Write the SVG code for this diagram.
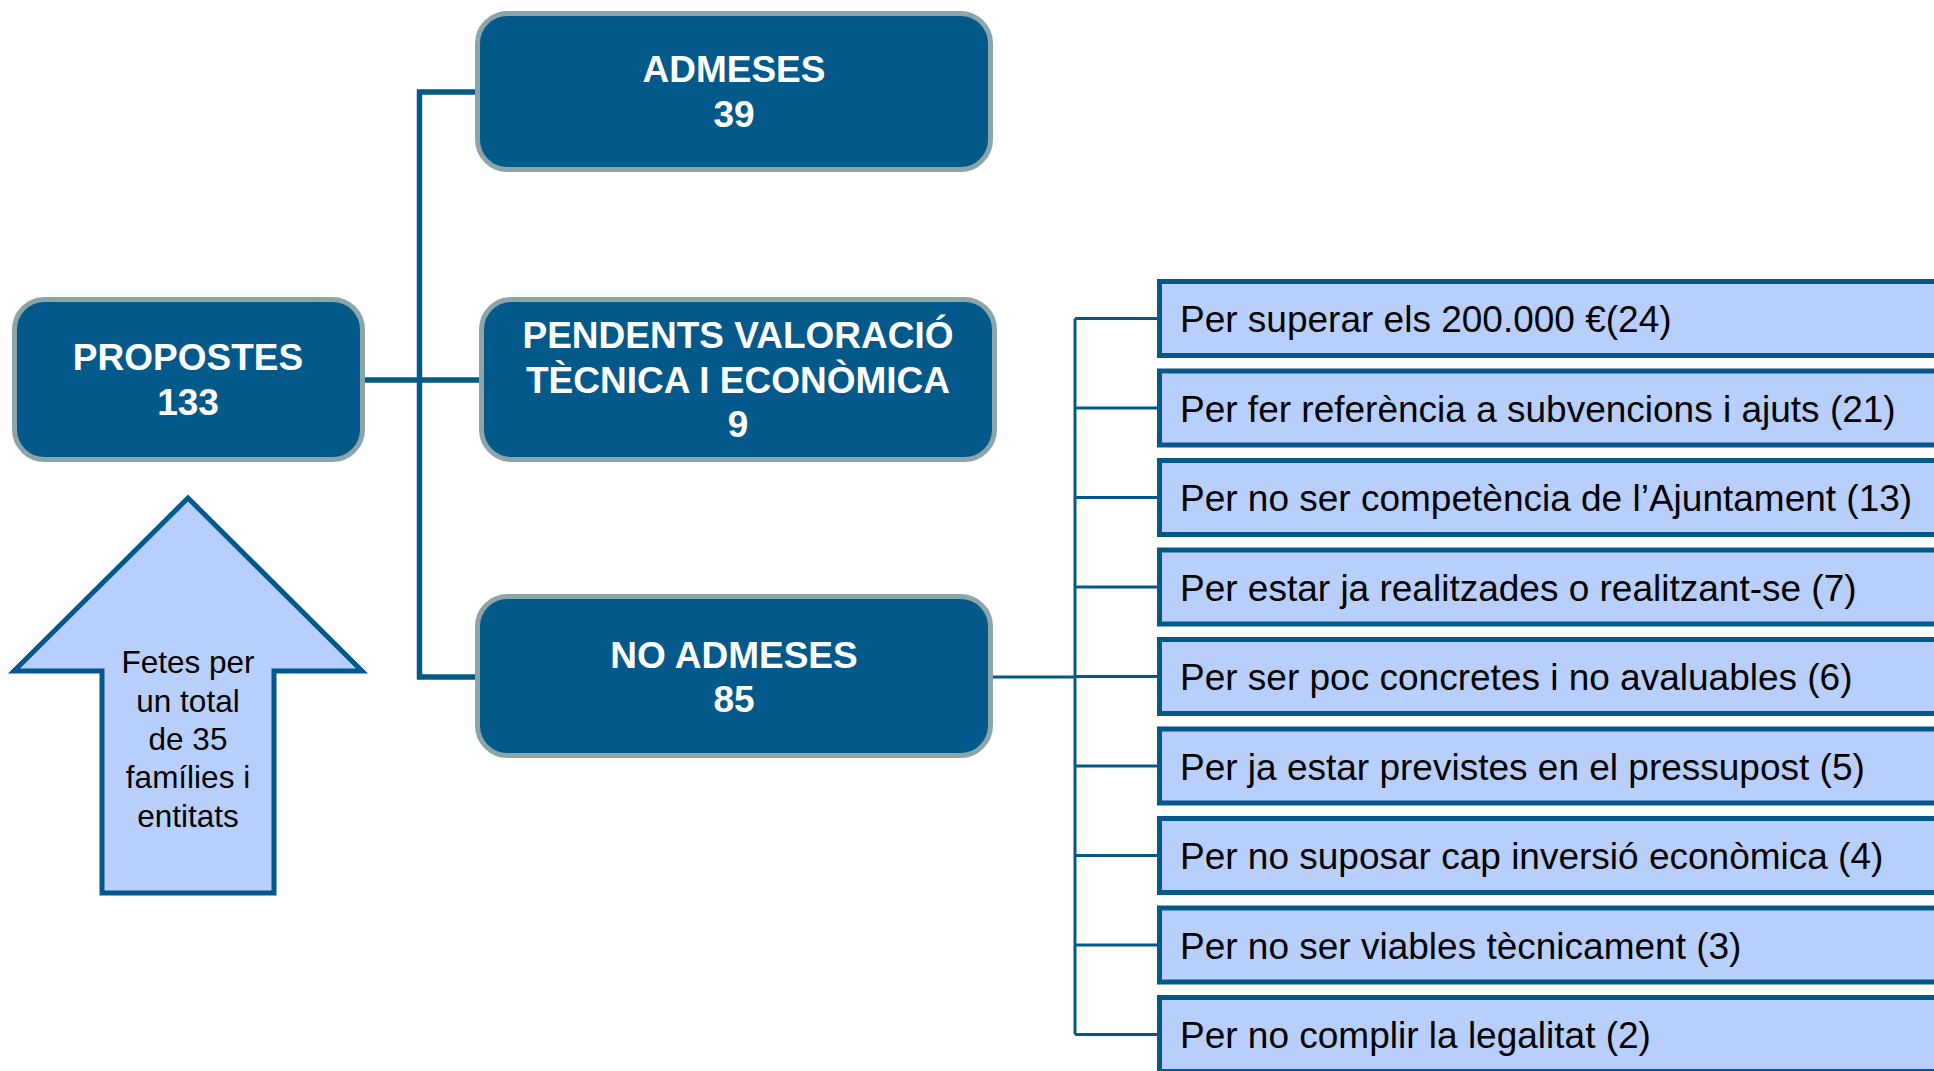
<svg xmlns="http://www.w3.org/2000/svg" width="1934" height="1071" viewBox="0 0 1934 1071">
<style>
.main{fill:#03598a;stroke:#8ca5a8;stroke-width:5}
.mt{fill:#ffffff;font-family:"Liberation Sans",Arial,sans-serif;font-weight:bold;font-size:37px;text-anchor:middle}
.sub{fill:#b8cffc;stroke:#03598a;stroke-width:5}
.st{fill:#000000;font-family:"Liberation Sans",Arial,sans-serif;font-size:37px}
.at{fill:#000000;font-family:"Liberation Sans",Arial,sans-serif;font-size:31.5px;text-anchor:middle}
.c1{stroke:#03598a;stroke-width:5.5;fill:none}
.c2{stroke:#03598a;stroke-width:3;fill:none}
</style>
<rect width="1934" height="1071" fill="#ffffff"/>
<g id="connectors">
<path class="c1" d="M419.5 89.5V679.5M417 92H478M362 380H482M417 677H478"/>
<path class="c2" d="M993 677H1075M1075 318.5V1034.5M1075 318.5H1159M1075 408H1159M1075 497.5H1159M1075 587H1159M1075 676.5H1159M1075 766H1159M1075 855.5H1159M1075 945H1159M1075 1034.5H1159"/>
</g>
<g id="propostes">
<rect class="main" x="14.5" y="299.5" width="348" height="160" rx="30"/>
<text class="mt" x="188" y="370">PROPOSTES</text>
<text class="mt" x="188" y="415">133</text>
</g>
<g id="admeses">
<rect class="main" x="477.5" y="13.5" width="513" height="156" rx="30"/>
<text class="mt" x="734" y="82">ADMESES</text>
<text class="mt" x="734" y="127">39</text>
</g>
<g id="pendents">
<rect class="main" x="481.5" y="299.5" width="513" height="160" rx="30"/>
<text class="mt" x="738" y="348">PENDENTS VALORACIÓ</text>
<text class="mt" x="738" y="393">TÈCNICA I ECONÒMICA</text>
<text class="mt" x="738" y="437">9</text>
</g>
<g id="no-admeses">
<rect class="main" x="477.5" y="596.5" width="513" height="159" rx="30"/>
<text class="mt" x="734" y="668">NO ADMESES</text>
<text class="mt" x="734" y="712">85</text>
</g>
<g id="arrow">
<path d="M188 498L362 671H274V893H102V671H14Z" fill="#b8cffc" stroke="#03598a" stroke-width="5"/>
<text class="at" x="188" y="673">Fetes per</text>
<text class="at" x="188" y="712">un total</text>
<text class="at" x="188" y="750">de 35</text>
<text class="at" x="188" y="788">famílies i</text>
<text class="at" x="188" y="827">entitats</text>
</g>
<g id="reason1"><rect class="sub" x="1159.5" y="281.5" width="800" height="74"/><text class="st" x="1180" y="332">Per superar els 200.000 €(24)</text></g>
<g id="reason2"><rect class="sub" x="1159.5" y="371" width="800" height="74"/><text class="st" x="1180" y="421.5">Per fer referència a subvencions i ajuts (21)</text></g>
<g id="reason3"><rect class="sub" x="1159.5" y="460.5" width="800" height="74"/><text class="st" x="1180" y="511">Per no ser competència de l’Ajuntament (13)</text></g>
<g id="reason4"><rect class="sub" x="1159.5" y="550" width="800" height="74"/><text class="st" x="1180" y="600.5">Per estar ja realitzades o realitzant-se (7)</text></g>
<g id="reason5"><rect class="sub" x="1159.5" y="639.5" width="800" height="74"/><text class="st" x="1180" y="690">Per ser poc concretes i no avaluables (6)</text></g>
<g id="reason6"><rect class="sub" x="1159.5" y="729" width="800" height="74"/><text class="st" x="1180" y="779.5">Per ja estar previstes en el pressupost (5)</text></g>
<g id="reason7"><rect class="sub" x="1159.5" y="818.5" width="800" height="74"/><text class="st" x="1180" y="869">Per no suposar cap inversió econòmica (4)</text></g>
<g id="reason8"><rect class="sub" x="1159.5" y="908" width="800" height="74"/><text class="st" x="1180" y="958.5">Per no ser viables tècnicament (3)</text></g>
<g id="reason9"><rect class="sub" x="1159.5" y="997.5" width="800" height="74"/><text class="st" x="1180" y="1048">Per no complir la legalitat (2)</text></g>
</svg>
